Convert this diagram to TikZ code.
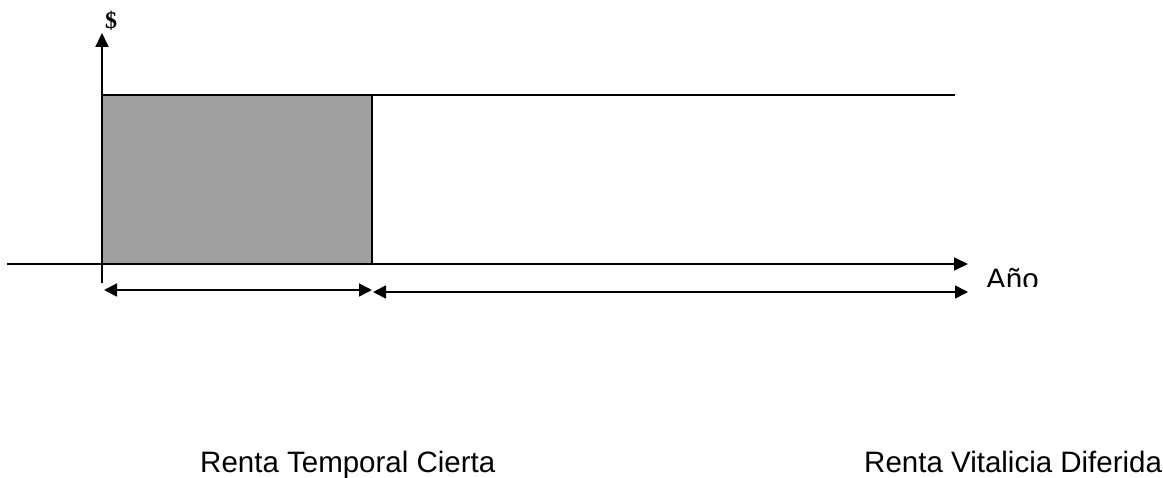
\documentclass[tikz,border=0pt]{standalone}
\usepackage{fontspec}
\setmainfont{Liberation Sans}
\newfontfamily\serifbold{Liberation Serif}
\usetikzlibrary{arrows.meta}
\definecolor{boxgray}{HTML}{A0A0A0}
\tikzset{
  tip/.style={-{Triangle[length=14pt,width=13pt]}},
  dtip/.style={{Triangle[length=13pt,width=13pt]}-{Triangle[length=13pt,width=13pt]}},
  axis/.style={line width=1.8pt, black},
  lbl/.style={font=\fontsize{29.5}{34}\selectfont, inner sep=0pt, anchor=base west},
}
\begin{document}
\begin{tikzpicture}[x=1pt,y=-1pt]
\useasboundingbox (0,0) rectangle (1163,478);
% shaded box
\draw[fill=boxgray, line width=2.8pt] (102,95) rectangle (372,264);
% top line continuation
\coordinate (tl) at (372,95);
\coordinate (tr) at (955,95);
\draw[line width=1.6pt] (tl) -- (tr);
% axes
\coordinate (xa) at (7,264);
\coordinate (xb) at (968,264);
\draw[axis, tip] (xa) -- (xb);
\coordinate (ya) at (102,283);
\coordinate (yb) at (102,33);
\draw[line width=2.2pt, tip] (ya) -- (yb);
\node[font=\serifbold\bfseries\fontsize{24}{28}\selectfont, inner sep=0pt] (dol) at (111,21) {\$};
% interval arrows
\coordinate (a1) at (104,290);
\coordinate (a2) at (372,290);
\coordinate (b1) at (373,292);
\coordinate (b2) at (968,292);
\draw[axis, dtip] (a1) -- (a2);
\draw[axis, dtip] (b1) -- (b2);
% labels
\begin{scope}
\clip (975,240) rectangle (1100,287);
\node[lbl] (ano) at (986,290) {Año};
\end{scope}
\node[lbl] (rtc) at (200,472) {Renta Temporal Cierta};
\node[lbl] (rvd) at (864,472) {Renta Vitalicia Diferida};
\end{tikzpicture}
\end{document}
